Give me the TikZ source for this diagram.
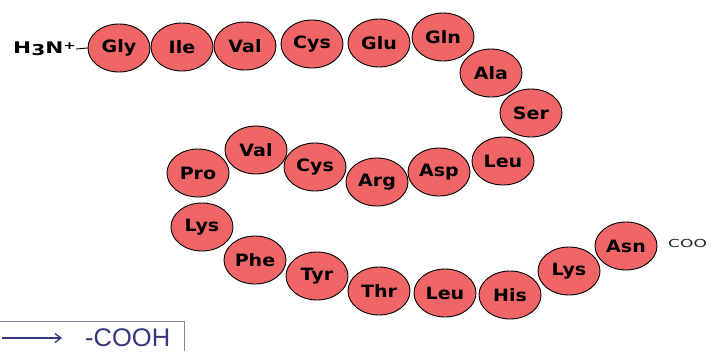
\documentclass[tikz,border=0pt]{standalone}
\usepackage{fontspec}
\setmainfont{Liberation Sans}
\newfontfamily\lblfont{DejaVu Sans}
\usetikzlibrary{shapes.geometric,arrows.meta}
\definecolor{aafill}{RGB}{240,102,102}
\definecolor{boxline}{RGB}{130,130,170}
\definecolor{navy}{RGB}{55,55,125}
\newcommand{\aalbl}[1]{\scalebox{1.12}[1]{#1}}
\begin{document}
\begin{tikzpicture}[x=1pt,y=-1pt,
  aa/.style={ellipse,draw=black,line width=0.9pt,fill=aafill,minimum width=62pt,minimum height=48pt,inner sep=0pt,font=\lblfont\fontsize{17}{17}\selectfont\bfseries},
  plain/.style={inner sep=0pt}]
\useasboundingbox (0,0) rectangle (712,351);
\node[aa] (gly) at (119,48) {\aalbl{Gly}};
\node[aa] (ile) at (182,47) {\aalbl{Ile}};
\node[aa] (val1) at (245,46) {\aalbl{Val}};
\node[aa] (cys1) at (312,44) {\aalbl{Cys}};
\node[aa] (glu) at (379,43) {\aalbl{Glu}};
\node[aa] (gln) at (443,37) {\aalbl{Gln}};
\node[aa] (ala) at (491,73) {\aalbl{Ala}};
\node[aa] (ser) at (531,113) {\aalbl{Ser}};
\node[aa] (leu1) at (503,161) {\aalbl{Leu}};
\node[aa] (asp) at (439,172) {\aalbl{Asp}};
\node[aa] (arg) at (377,182) {\aalbl{Arg}};
\node[aa] (cys2) at (315,167) {\aalbl{Cys}};
\node[aa] (val2) at (256,150) {\aalbl{Val}};
\node[aa] (pro) at (198,173) {\aalbl{Pro}};
\node[aa] (lys1) at (202,227) {\aalbl{Lys}};
\node[aa] (phe) at (255,260) {\aalbl{Phe}};
\node[aa] (tyr) at (317,276) {\aalbl{Tyr}};
\node[aa] (thr) at (379,291) {\aalbl{Thr}};
\node[aa] (leu2) at (445,293) {\aalbl{Leu}};
\node[aa] (his) at (510,295) {\aalbl{His}};
\node[aa] (lys2) at (569,271) {\aalbl{Lys}};
\node[aa] (asn) at (626,246) {\aalbl{Asn}};
\node[plain,anchor=west,font=\lblfont\fontsize{16}{16}\selectfont\bfseries] (h3n) at (13,49) {\scalebox{1.35}[1]{H\raisebox{-1.5pt}{\fontsize{15}{15}\selectfont 3}N\raisebox{4pt}{\fontsize{11}{11}\selectfont +}}};
\draw[line width=0.9pt] (h3n.east) -- (gly.west);
\node[plain,font=\lblfont\fontsize{11}{11}\selectfont,text=black!85,anchor=west] (coo) at (668,243) {\scalebox{1.55}[1]{COO}};
\coordinate (bl) at (0,321);
\coordinate (bc) at (184,321);
\coordinate (bb) at (184,351);
\draw[boxline,line width=1pt] (bl) -- (bc) -- (bb);
\coordinate (a1) at (2,338);
\coordinate (a2) at (62,338);
\draw[navy,line width=1.3pt,-{Straight Barb[length=6pt,width=9pt]}] (a1) -- (a2);
\node[plain,anchor=west,text=navy,font=\fontsize{25.5}{25.5}\selectfont] (cooh) at (85,338) {-COOH};
\end{tikzpicture}
\end{document}
